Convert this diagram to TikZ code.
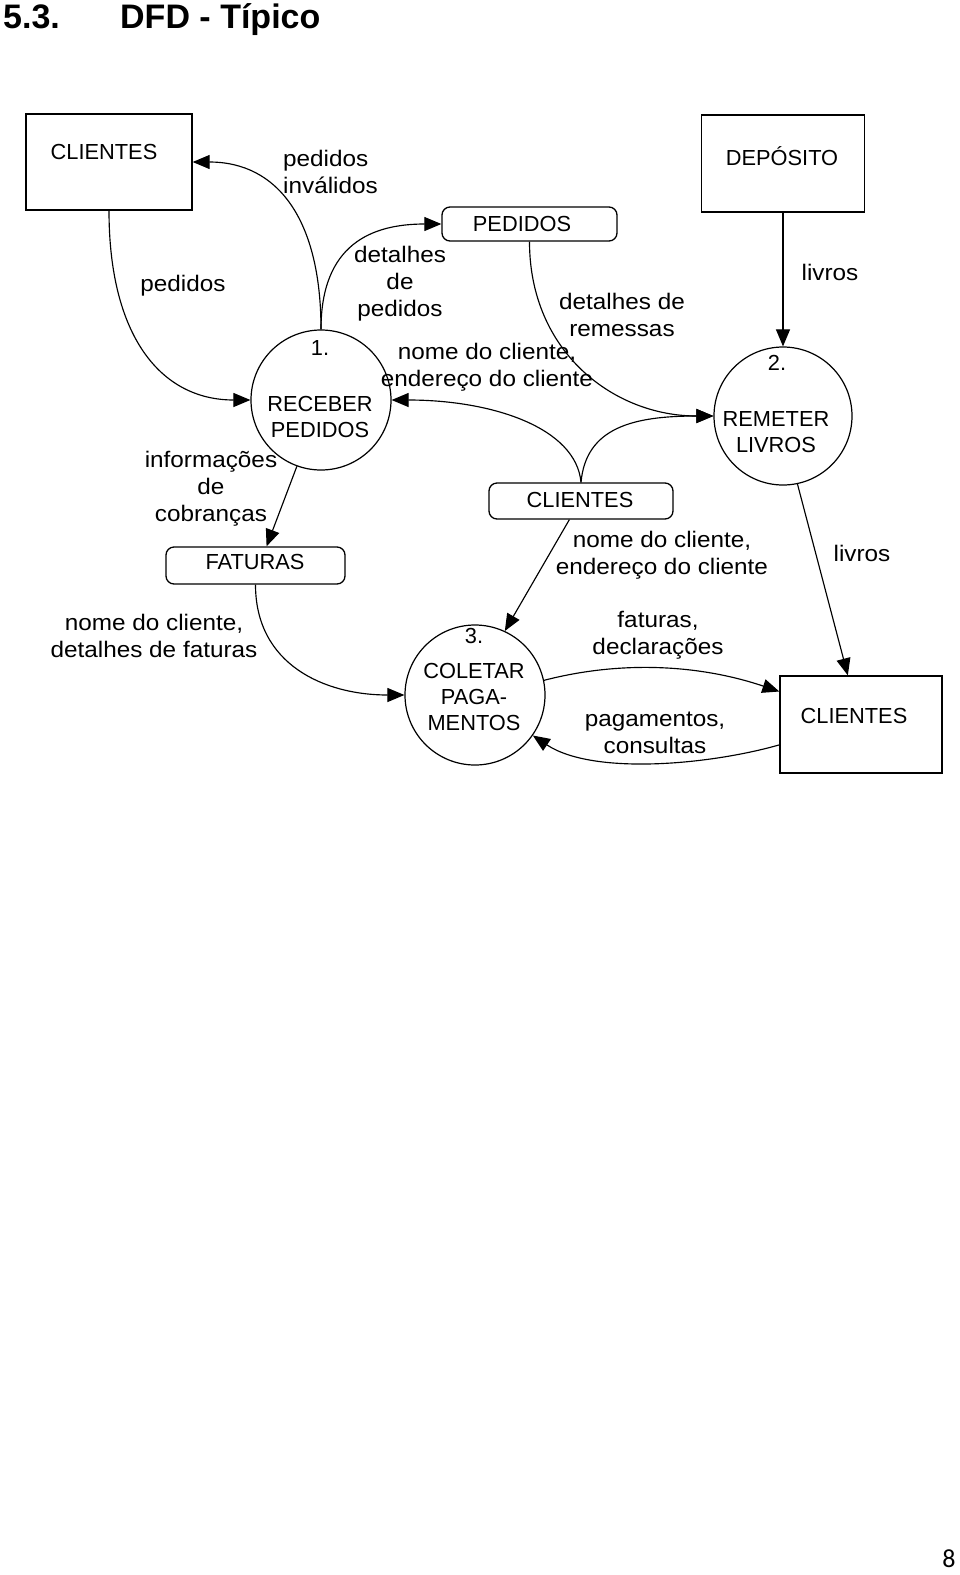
\documentclass[tikz,border=0pt]{standalone}
\usepackage{fontspec}
\setmainfont{Liberation Sans}
\newfontfamily\lab[FakeStretch=1.08]{Liberation Sans}
\newfontfamily\pgnum{Carlito}
\usetikzlibrary{arrows.meta}
\begin{document}
\begin{tikzpicture}[x=1pt,y=-1pt,
  ent/.style={draw, line width=1.3pt, rectangle, inner sep=0pt},
  store/.style={draw, line width=1.3pt, rectangle, rounded corners=8pt, inner sep=0pt},
  proc/.style={draw, circle, line width=1.2pt, minimum size=140pt, inner sep=0pt},
  flow/.style={line width=1.15pt, -{Triangle[length=17pt,width=14pt]}},
  lbl/.style={font=\lab\fontsize{22.5}{27}\selectfont, align=center, inner sep=0pt},
  ntxt/.style={font=\fontsize{21.8}{26}\selectfont, align=center, inner sep=0pt}]
\useasboundingbox (0,0) rectangle (960,1575);
% title
\node[anchor=base west, inner sep=0pt, font=\bfseries\fontsize{34}{40}\selectfont] (t1) at (3,28) {5.3.};
\node[anchor=base west, inner sep=0pt, font=\bfseries\fontsize{34}{40}\selectfont] (t2) at (120,28) {DFD - Típico};
% externals
\node[ent, minimum width=166pt, minimum height=96pt] (cl1) at (109,162) {};
\node[ntxt] (cl1t) at (104,152) {CLIENTES};
\node[ent, minimum width=163pt, minimum height=97pt] (dep) at (783,163.5) {};
\node[ntxt] (dept) at (782,156) {DEPÓSITO};
\node[ent, minimum width=162pt, minimum height=97pt] (cl2) at (861,724.5) {};
\node[ntxt] (cl2t) at (854,716) {CLIENTES};
% stores
\node[store, minimum width=175pt, minimum height=34pt] (ped) at (529.5,224) {};
\node[ntxt] (pedt) at (522,224) {PEDIDOS};
\node[store, minimum width=184pt, minimum height=36pt] (cls) at (581,501) {};
\node[ntxt] (clst) at (580,500) {CLIENTES};
\node[store, minimum width=179pt, minimum height=37pt] (fat) at (255.5,565.5) {};
\node[ntxt] (fatt) at (255,562) {FATURAS};
% processes
\node[proc] (p1) at (321,400) {};
\node[ntxt] (p1n) at (320,348) {1.};
\node[ntxt] (p1t) at (320,417) {RECEBER\\PEDIDOS};
\node[proc, minimum size=138pt] (p2) at (783,416) {};
\node[ntxt] (p2n) at (777,363) {2.};
\node[ntxt] (p2t) at (776,432) {REMETER\\LIVROS};
\node[proc] (p3) at (475,695) {};
\node[ntxt] (p3n) at (474,636) {3.};
\node[ntxt] (p3t) at (474,697) {COLETAR\\PAGA-\\MENTOS};
% flows
\draw[flow] (cl1.south) .. controls +(0,125) and +(-90,0) .. (p1.west);
\draw[flow] (p1.north) .. controls +(0,-110) and +(85,0) .. (cl1.east);
\draw[flow] (p1.north) .. controls +(0,-85) and +(-70,0) .. (ped.west);
\draw[flow] (ped.south) .. controls +(0,110) and +(-100,0) .. (p2.west);
\draw[flow] (dep.south) -- (p2.north);
\draw[flow] (cls.north) .. controls +(-5,-55) and +(100,0) .. (p1.east);
\draw[flow] (cls.north) .. controls +(5,-55) and +(-80,0) .. (p2.west);
\draw[flow] (p1.250) -- (fat.60);
\draw[flow] (fat.south) .. controls +(0,80) and +(-80,0) .. (p3.west);
\draw[flow] (cls.238) -- (p3.65);
\draw[flow] (p2.282) -- (cl2.105);
\draw[flow] (p3.12) .. controls +(77,-20) and +(-80,-27) .. (cl2.158);
\draw[flow] (cl2.194) .. controls +(-70,20) and +(60,40) .. (p3.325);
% labels
\node[lbl] (l1) at (183,286) {pedidos};
\node[lbl, anchor=west, align=left] (l2) at (283,172) {pedidos\\inválidos};
\node[lbl] (l3) at (400,284) {detalhes\\de\\pedidos};
\node[lbl] (l4) at (622,315) {detalhes de\\remessas};
\node[lbl] (l5) at (830,272) {livros};
\node[lbl] (l6) at (487,367) {nome do cliente,\\endereço do cliente};
\node[lbl] (l7) at (211,489) {informações\\de\\cobranças};
\node[lbl] (l8) at (154,636) {nome do cliente,\\detalhes de faturas};
\node[lbl] (l9) at (662,555) {nome do cliente,\\endereço do cliente};
\node[lbl] (l10) at (862,553) {livros};
\node[lbl] (l11) at (658,635) {faturas,\\declarações};
\node[lbl] (l12) at (655,733) {pagamentos,\\consultas};
% page number
\node[anchor=base, inner sep=0pt, font=\pgnum\fontsize{26}{30}\selectfont] (pg) at (949,1567) {8};
\end{tikzpicture}
\end{document}
